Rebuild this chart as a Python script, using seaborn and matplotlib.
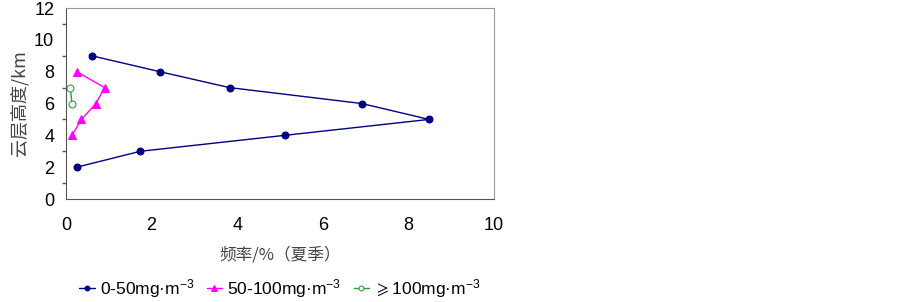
import pandas as pd
import matplotlib
matplotlib.use('Agg')
import matplotlib.pyplot as plt
from matplotlib.ticker import MultipleLocator
import seaborn as sns

heights_low = [2, 3, 4, 5, 6, 7, 8, 9]
freq_low = [0.25, 1.74, 5.11, 8.48, 6.91, 3.82, 2.19, 0.6]

heights_mid = [4, 5, 6, 7, 8]
freq_mid = [0.14, 0.36, 0.7, 0.9, 0.25]

heights_high = [6, 7]
freq_high = [0.14, 0.1]

labels = ['0-50mg·m$^{-3}$', '50-100mg·m$^{-3}$', '$\\geqslant$100mg·m$^{-3}$']

sns.set_style('white')
plt.rcParams['font.family'] = ['Liberation Sans', 'DejaVu Sans', 'Noto Sans CJK SC']
plt.rcParams['mathtext.fontset'] = 'custom'
plt.rcParams['mathtext.rm'] = 'Liberation Sans'
plt.rcParams['mathtext.it'] = 'Liberation Sans'
plt.rcParams['mathtext.fallback'] = 'stix'

fig = plt.figure(figsize=(9.03, 3.02), dpi=100)
ax = fig.add_axes([0.0731, 0.341, 0.474, 0.6325])

sns.lineplot(x=freq_low, y=heights_low, orient='y', color='#000080', marker='o',
             markersize=5, markeredgecolor='#000080', linewidth=1, label=labels[0], ax=ax)
sns.lineplot(x=freq_mid, y=heights_mid, orient='y', color='#FF00FF', marker='^',
             markersize=5.5, markeredgecolor='#FF00FF', linewidth=1, label=labels[1], ax=ax)
sns.lineplot(x=freq_high, y=heights_high, orient='y', color='#339933', marker='o',
             markersize=5, markerfacecolor='white', markeredgecolor='#339933',
             linewidth=1, label=labels[2], ax=ax)

ax.set_xlim(0, 10)
ax.set_ylim(0, 12)
ax.xaxis.set_major_locator(MultipleLocator(2))
ax.yaxis.set_major_locator(MultipleLocator(2))
ax.yaxis.set_minor_locator(MultipleLocator(1))
ax.tick_params(axis='both', which='both', direction='out', color='#555555',
               labelsize=13, labelcolor='black')
ax.tick_params(axis='both', which='major', length=5, width=1)
ax.tick_params(axis='y', which='minor', length=3, width=1, left=True)
ax.tick_params(axis='x', pad=8)
for side in ['top', 'right']:
    ax.spines[side].set_color('#999999')
for side in ['left', 'bottom']:
    ax.spines[side].set_color('#555555')

ax.set_xlabel('频率/%（夏季）', family=['Noto Sans CJK SC', 'DejaVu Sans'],
              fontsize=12, color='#444444', labelpad=9)
ax.set_ylabel('云层高度/km', family=['Noto Sans CJK SC', 'DejaVu Sans'],
              fontsize=13, color='#444444', labelpad=4)

leg = ax.legend(loc='center', bbox_to_anchor=(0.31, 0.045), bbox_transform=fig.transFigure,
                ncol=3, frameon=False, fontsize=12.5, handlelength=0.9, handletextpad=0.3,
                columnspacing=0.7, markerscale=0.7)
for t in leg.get_texts():
    t.set_color('black')

fig.savefig('out.png', dpi=100, facecolor='white')
